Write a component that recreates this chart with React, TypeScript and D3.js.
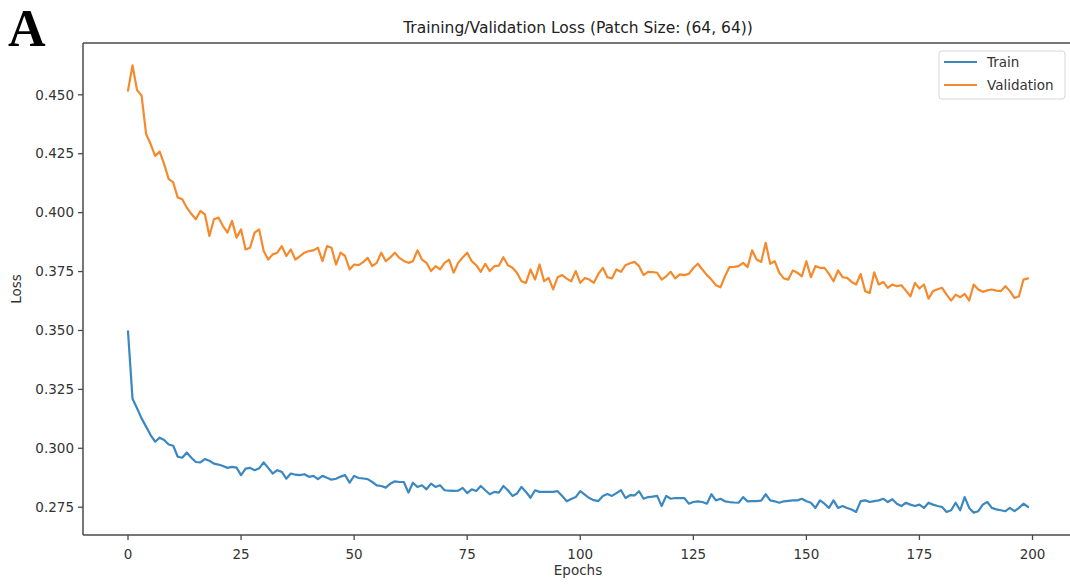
import React, { useEffect, useRef } from "react";
import * as d3 from "d3";

const TRAIN: number[] = [
  0.3496, 0.3210, 0.3170, 0.3127, 0.3092, 0.3056, 0.3028, 0.3045, 0.3035, 0.3016,
  0.3011, 0.2964, 0.2960, 0.2982, 0.2960, 0.2942, 0.2940, 0.2954, 0.2947, 0.2935,
  0.2931, 0.2925, 0.2917, 0.2921, 0.2918, 0.2886, 0.2914, 0.2917, 0.2907, 0.2915,
  0.2940, 0.2917, 0.2893, 0.2907, 0.2900, 0.2871, 0.2893, 0.2888, 0.2886, 0.2890,
  0.2879, 0.2883, 0.2869, 0.2883, 0.2875, 0.2867, 0.2871, 0.2880, 0.2886, 0.2854,
  0.2883, 0.2874, 0.2872, 0.2869, 0.2857, 0.2843, 0.2840, 0.2833, 0.2850, 0.2860,
  0.2857, 0.2857, 0.2812, 0.2854, 0.2836, 0.2843, 0.2826, 0.2850, 0.2836, 0.2843,
  0.2822, 0.2820, 0.2819, 0.2820, 0.2832, 0.2810, 0.2826, 0.2819, 0.2840, 0.2822,
  0.2805, 0.2815, 0.2812, 0.2840, 0.2822, 0.2798, 0.2808, 0.2836, 0.2815, 0.2790,
  0.2822, 0.2815, 0.2815, 0.2815, 0.2815, 0.2818, 0.2798, 0.2775, 0.2785, 0.2793,
  0.2818, 0.2803, 0.2789, 0.2780, 0.2776, 0.2798, 0.2806, 0.2798, 0.2810, 0.2822,
  0.2789, 0.2801, 0.2800, 0.2818, 0.2786, 0.2793, 0.2795, 0.2798, 0.2755, 0.2798,
  0.2786, 0.2789, 0.2789, 0.2789, 0.2765, 0.2772, 0.2775, 0.2772, 0.2765, 0.2805,
  0.2779, 0.2786, 0.2775, 0.2772, 0.2770, 0.2769, 0.2793, 0.2775, 0.2776, 0.2776,
  0.2778, 0.2805, 0.2779, 0.2775, 0.2769, 0.2775, 0.2777, 0.2779, 0.2779, 0.2786,
  0.2775, 0.2769, 0.2747, 0.2779, 0.2765, 0.2747, 0.2779, 0.2747, 0.2755, 0.2747,
  0.2740, 0.2730, 0.2776, 0.2779, 0.2772, 0.2776, 0.2779, 0.2786, 0.2772, 0.2784,
  0.2765, 0.2755, 0.2769, 0.2761, 0.2755, 0.2761, 0.2747, 0.2769, 0.2761, 0.2755,
  0.2751, 0.2730, 0.2737, 0.2769, 0.2737, 0.2793, 0.2747, 0.2727, 0.2733, 0.2761,
  0.2772, 0.2747, 0.2741, 0.2737, 0.2733, 0.2747, 0.2733, 0.2747, 0.2765, 0.2751,
];

const VALIDATION: number[] = [
  0.4518, 0.4625, 0.4520, 0.4497, 0.4334, 0.4291, 0.4241, 0.4259, 0.4206, 0.4142,
  0.4128, 0.4064, 0.4057, 0.4021, 0.3995, 0.3972, 0.4007, 0.3993, 0.3901, 0.3972,
  0.3979, 0.3943, 0.3915, 0.3965, 0.3894, 0.3929, 0.3844, 0.3851, 0.3915, 0.3929,
  0.3837, 0.3801, 0.3823, 0.3830, 0.3858, 0.3816, 0.3844, 0.3801, 0.3815, 0.3830,
  0.3837, 0.3840, 0.3851, 0.3794, 0.3858, 0.3851, 0.3780, 0.3830, 0.3816, 0.3759,
  0.3780, 0.3777, 0.3790, 0.3808, 0.3773, 0.3787, 0.3830, 0.3794, 0.3810, 0.3830,
  0.3808, 0.3795, 0.3787, 0.3794, 0.3840, 0.3801, 0.3787, 0.3752, 0.3773, 0.3759,
  0.3787, 0.3801, 0.3745, 0.3787, 0.3810, 0.3830, 0.3794, 0.3777, 0.3749, 0.3783,
  0.3752, 0.3773, 0.3775, 0.3811, 0.3777, 0.3766, 0.3745, 0.3709, 0.3702, 0.3759,
  0.3716, 0.3780, 0.3709, 0.3723, 0.3674, 0.3726, 0.3735, 0.3720, 0.3709, 0.3752,
  0.3702, 0.3723, 0.3716, 0.3702, 0.3740, 0.3766, 0.3726, 0.3721, 0.3759, 0.3749,
  0.3777, 0.3785, 0.3791, 0.3773, 0.3735, 0.3749, 0.3748, 0.3745, 0.3716, 0.3730,
  0.3749, 0.3721, 0.3738, 0.3735, 0.3740, 0.3765, 0.3783, 0.3759, 0.3735, 0.3716,
  0.3692, 0.3683, 0.3730, 0.3769, 0.3770, 0.3773, 0.3787, 0.3769, 0.3840, 0.3801,
  0.3791, 0.3872, 0.3783, 0.3794, 0.3745, 0.3721, 0.3716, 0.3755, 0.3745, 0.3730,
  0.3794, 0.3726, 0.3773, 0.3766, 0.3766, 0.3740, 0.3709, 0.3755, 0.3726, 0.3723,
  0.3706, 0.3695, 0.3740, 0.3667, 0.3659, 0.3747, 0.3695, 0.3706, 0.3681, 0.3695,
  0.3688, 0.3692, 0.3669, 0.3645, 0.3702, 0.3678, 0.3695, 0.3635, 0.3667, 0.3675,
  0.3681, 0.3652, 0.3627, 0.3652, 0.3641, 0.3655, 0.3627, 0.3695, 0.3674, 0.3664,
  0.3670, 0.3674, 0.3669, 0.3667, 0.3688, 0.3667, 0.3638, 0.3645, 0.3716, 0.3721,
];

const X_TICKS: number[] = [0, 25, 50, 75, 100, 125, 150, 175, 200];
const Y_TICKS: number[] = [0.275, 0.3, 0.325, 0.35, 0.375, 0.4, 0.425, 0.45];
const SERIES_NAMES: string[] = ["Train", "Validation"];
const SERIES_COLORS: string[] = ["#3b87c0", "#f58a2c"];
const TITLE = "Training/Validation Loss (Patch Size: (64, 64))";

const W = 1070;
const H = 587;
const M = { left: 83, right: 1073, top: 43, bottom: 535 };
const FONT = "'DejaVu Sans', sans-serif";

export default function App() {
  const ref = useRef<SVGSVGElement>(null);

  useEffect(() => {
    const svg = d3.select(ref.current);
    svg.selectAll("*").remove();

    const n = TRAIN.length;
    const all = [...TRAIN, ...VALIDATION];
    const xMin = 0, xMax = n - 1;
    const xPad = (xMax - xMin) * 0.05;
    const yMin = d3.min(all) as number, yMax = d3.max(all) as number;
    const yPad = (yMax - yMin) * 0.05;

    const x = d3.scaleLinear().domain([xMin - xPad, xMax + xPad]).range([M.left, M.right]);
    const y = d3.scaleLinear().domain([yMin - yPad, yMax + yPad]).range([M.bottom, M.top]);

    svg.append("rect").attr("x", 0).attr("y", 0).attr("width", W).attr("height", H).attr("fill", "#fff");

    // lines
    const line = d3.line<number>().x((_, i) => x(i)).y((d) => y(d));
    [TRAIN, VALIDATION].forEach((s, k) => {
      svg.append("path")
        .datum(s)
        .attr("d", line)
        .attr("fill", "none")
        .attr("stroke", SERIES_COLORS[k])
        .attr("stroke-width", 2.2)
        .attr("stroke-linejoin", "round")
        .attr("stroke-linecap", "round");
    });

    const spine = "#4a4a4a";
    // spines
    svg.append("line").attr("x1", M.left).attr("x2", M.left).attr("y1", M.top).attr("y2", M.bottom).attr("stroke", spine).attr("stroke-width", 1.5);
    svg.append("line").attr("x1", M.left).attr("x2", M.right).attr("y1", M.bottom).attr("y2", M.bottom).attr("stroke", spine).attr("stroke-width", 1.5);
    svg.append("line").attr("x1", M.left).attr("x2", M.right).attr("y1", M.top).attr("y2", M.top).attr("stroke", spine).attr("stroke-width", 1.5);
    svg.append("line").attr("x1", M.right).attr("x2", M.right).attr("y1", M.top).attr("y2", M.bottom).attr("stroke", spine).attr("stroke-width", 1.5);

    // x axis ticks
    const xg = svg.append("g");
    X_TICKS.forEach((t) => {
      xg.append("line").attr("x1", x(t)).attr("x2", x(t)).attr("y1", M.bottom).attr("y2", M.bottom + 5).attr("stroke", spine).attr("stroke-width", 1.3);
      xg.append("text").attr("x", x(t)).attr("y", M.bottom + 24).attr("text-anchor", "middle")
        .attr("font-family", FONT).attr("font-size", 13.5).attr("fill", "#333").text(String(t));
    });
    // y axis ticks
    const yg = svg.append("g");
    const fmt = d3.format(".3f");
    Y_TICKS.forEach((t) => {
      yg.append("line").attr("x1", M.left - 5).attr("x2", M.left).attr("y1", y(t)).attr("y2", y(t)).attr("stroke", spine).attr("stroke-width", 1.3);
      yg.append("text").attr("x", M.left - 9).attr("y", y(t)).attr("dy", "0.35em").attr("text-anchor", "end")
        .attr("font-family", FONT).attr("font-size", 13.5).attr("fill", "#333").text(fmt(t));
    });

    // axis labels
    svg.append("text").attr("x", (M.left + M.right) / 2).attr("y", 575).attr("text-anchor", "middle")
      .attr("font-family", FONT).attr("font-size", 13.5).attr("fill", "#333").text("Epochs");
    svg.append("text").attr("transform", `translate(21,${(M.top + M.bottom) / 2}) rotate(-90)`).attr("text-anchor", "middle")
      .attr("font-family", FONT).attr("font-size", 13.5).attr("fill", "#333").text("Loss");

    // title
    svg.append("text").attr("x", (M.left + M.right) / 2).attr("y", 33).attr("text-anchor", "middle")
      .attr("font-family", FONT).attr("font-size", 15.5).attr("fill", "#222").text(TITLE);

    // panel letter
    svg.append("text").attr("x", 8).attr("y", 46).attr("font-family", "'Liberation Serif', 'Times New Roman', serif")
      .attr("font-weight", "bold").attr("font-size", 52).attr("fill", "#000").text("A");

    // legend
    const lg = svg.append("g");
    lg.append("rect").attr("x", 939).attr("y", 51).attr("width", 126).attr("height", 48).attr("rx", 3)
      .attr("fill", "#fff").attr("fill-opacity", 0.8).attr("stroke", "#d6d6d6").attr("stroke-width", 1);
    SERIES_NAMES.forEach((name, k) => {
      const ly = 62 + k * 23;
      lg.append("line").attr("x1", 944).attr("x2", 977).attr("y1", ly).attr("y2", ly)
        .attr("stroke", SERIES_COLORS[k]).attr("stroke-width", 2.2);
      lg.append("text").attr("x", 987).attr("y", ly).attr("dy", "0.35em")
        .attr("font-family", FONT).attr("font-size", 13.5).attr("fill", "#333").text(name);
    });
  }, []);

  return (
    <svg ref={ref} width={W} height={H} style={{ position: "absolute", left: 0, top: 0, display: "block" }} />
  );
}
